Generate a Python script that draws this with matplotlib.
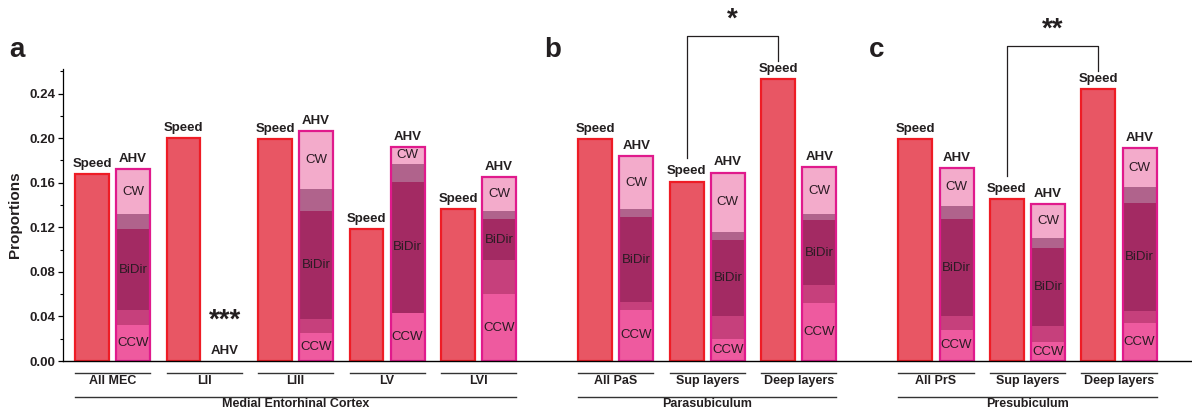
import matplotlib.pyplot as plt
import numpy as np
from matplotlib.ticker import MultipleLocator

plt.rcParams['font.family'] = ['Liberation Sans', 'DejaVu Sans']

# groups along the x axis, three regions
groups = ['All MEC', 'LII', 'LIII', 'LV', 'LVI',
          'All PaS', 'Sup layers', 'Deep layers',
          'All PrS', 'Sup layers', 'Deep layers']
regions = ['Medial Entorhinal Cortex', 'Parasubiculum', 'Presubiculum']
region_of = [0, 0, 0, 0, 0, 1, 1, 1, 2, 2, 2]

speed = [0.168, 0.200, 0.199, 0.118, 0.136,
         0.199, 0.161, 0.253,
         0.199, 0.145, 0.244]

# AHV stacks, bottom to top
ccw = [0.032, 0.0, 0.025, 0.043, 0.060, 0.046, 0.020, 0.052, 0.028, 0.017, 0.034]
ccw_bidir = [0.014, 0.0, 0.013, 0.0, 0.031, 0.007, 0.020, 0.016, 0.012, 0.014, 0.011]
bidir = [0.072, 0.0, 0.0965, 0.118, 0.036, 0.076, 0.0685, 0.0585, 0.087, 0.070, 0.097]
cw_bidir = [0.014, 0.0, 0.0195, 0.016, 0.008, 0.007, 0.0075, 0.005, 0.012, 0.009, 0.014]
cw = [0.040, 0.0, 0.052, 0.015, 0.030, 0.048, 0.053, 0.0425, 0.034, 0.031, 0.035]

# significance between speed bars: (group a, group b, stars)
sig = [(6, 7, '*'), (9, 10, '**')]
no_ahv = [(1, '***')]

txt = '#231f20'
speed_face, speed_edge = '#e85664', '#ee1c25'
ahv_edge = '#e01a8c'
seg_colors = ['#ee5a9f', '#c6407c', '#a32a63', '#b0638c', '#f3abcb']

# x positions: one unit per group, extra gap between regions
x = np.array([i + 0.5 * r for i, r in enumerate(region_of)], dtype=float)
w = 0.37
off = 0.225

fig = plt.figure(figsize=(11.92, 4.15), dpi=100)
ax = fig.add_axes([0.0529, 0.1301, 0.9471, 0.7036])

ax.bar(x - off, speed, w, color=speed_face, edgecolor=speed_edge, linewidth=1.6)

segs = [ccw, ccw_bidir, bidir, cw_bidir, cw]
bottom = np.zeros(len(groups))
for s, c in zip(segs, seg_colors):
    ax.bar(x + off, s, w, bottom=bottom, color=c, linewidth=0)
    bottom += np.array(s)
total = bottom.copy()
has_ahv = total > 0
ax.bar(x[has_ahv] + off, total[has_ahv], w, fill=False,
       edgecolor=ahv_edge, linewidth=1.6)

# labels on top of bars
for i in range(len(groups)):
    ax.annotate('Speed', (x[i] - off, speed[i]), xytext=(0, 3),
                textcoords='offset points', ha='center', va='bottom',
                fontsize=9.5, fontweight='bold', color=txt)
    ax.annotate('AHV', (x[i] + off, total[i]), xytext=(0, 3),
                textcoords='offset points', ha='center', va='bottom',
                fontsize=9.5, fontweight='bold', color=txt)
    if not has_ahv[i]:
        continue
    lo = 0.0
    mids = []
    for s in segs:
        mids.append(lo + s[i] / 2)
        lo += s[i]
    for name, k in (('CCW', 0), ('BiDir', 2), ('CW', 4)):
        ax.text(x[i] + off, mids[k], name, ha='center', va='center',
                fontsize=9.5, color='#2b1b24')

for i, stars in no_ahv:
    ax.text(x[i] + off, 0.036, stars, ha='center', va='center',
            fontsize=20, fontweight='bold', color=txt)

for a, b, stars in sig:
    top = max(speed[a], speed[b]) + 0.039
    ax.plot([x[a] - off, x[a] - off, x[b] - off, x[b] - off],
            [speed[a] + 0.021, top, top, speed[b] + 0.016],
            color=txt, lw=0.9, clip_on=False)
    ax.text((x[a] + x[b]) / 2 - off, top + 0.014, stars, ha='center',
            va='center', fontsize=20, fontweight='bold', color=txt)

# axes styling
ax.set_xlim(-0.541, 11.798)
ax.set_ylim(0, 0.262)
ax.set_xticks([])
ax.yaxis.set_major_locator(MultipleLocator(0.04))
ax.yaxis.set_minor_locator(MultipleLocator(0.02))
ax.set_yticks(np.arange(0, 0.25, 0.04))
ax.set_yticklabels(['%.2f' % v for v in np.arange(0, 0.25, 0.04)],
                   fontweight='bold', fontsize=9.5, color=txt)
ax.tick_params(axis='y', which='major', length=3.5, width=0.9, pad=2)
ax.tick_params(axis='y', which='minor', length=2, width=0.8)
for sp in ('top', 'right'):
    ax.spines[sp].set_visible(False)
ax.spines['left'].set_linewidth(0.9)
ax.spines['bottom'].set_linewidth(1.0)
ax.set_ylabel('Proportions', fontsize=11, fontweight='bold', color=txt,
              labelpad=5)

# group and region labels under the axis
tr = ax.get_xaxis_transform()
half = off + w / 2
for i, g in enumerate(groups):
    ax.plot([x[i] - half, x[i] + half], [-0.042, -0.042], color='#333333',
            lw=1.0, transform=tr, clip_on=False)
    ax.text(x[i], -0.068, g, transform=tr, ha='center', va='center',
            fontsize=9, fontweight='bold', color=txt)
for r, name in enumerate(regions):
    idx = [i for i, rr in enumerate(region_of) if rr == r]
    x0, x1 = x[idx[0]] - half, x[idx[-1]] + half
    ax.plot([x0, x1], [-0.122, -0.122], color='#333333', lw=1.0,
            transform=tr, clip_on=False)
    ax.text((x0 + x1) / 2, -0.147, name, transform=tr, ha='center',
            va='center', fontsize=9, fontweight='bold', color=txt)

# panel letters
for px, letter in ((17, 'a'), (553, 'b'), (877, 'c')):
    fig.text(px / 1192, 1 - 50 / 415, letter, ha='center', va='center',
             fontsize=20, fontweight='bold', color=txt)

plt.savefig('out.png', dpi=100)
